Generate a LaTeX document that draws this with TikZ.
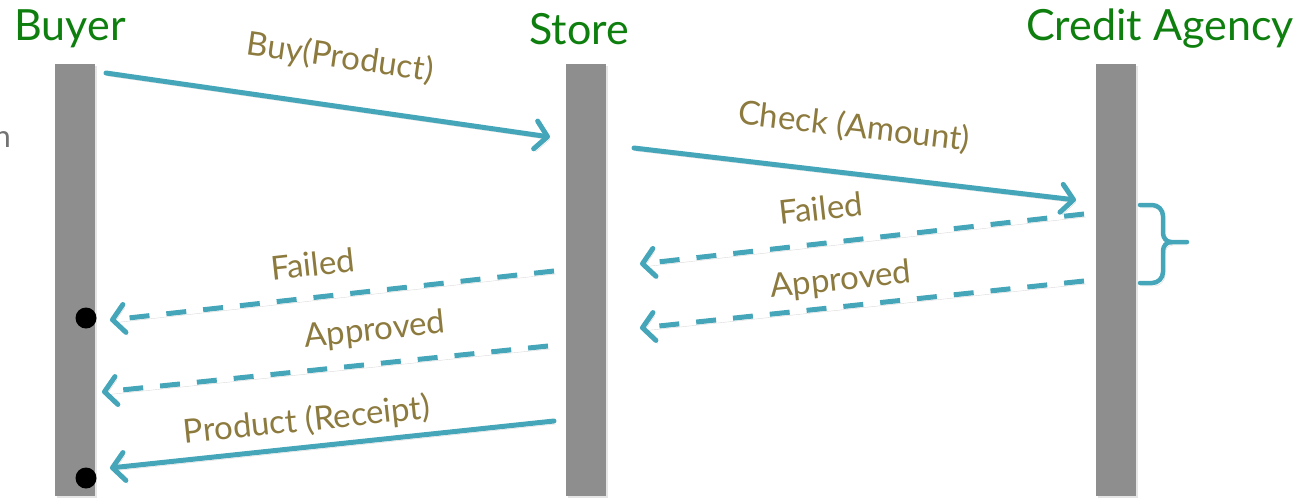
\documentclass[tikz,border=0pt]{standalone}
\usepackage{fontspec}
\setmainfont{Lato}
\usetikzlibrary{arrows.meta}
\definecolor{lifegray}{HTML}{8E8E8E}
\definecolor{msgblue}{HTML}{45A5B9}
\definecolor{msgtext}{HTML}{8C7A3E}
\definecolor{actorgreen}{HTML}{0E7F0E}
\begin{document}
\begin{tikzpicture}[x=1pt,y=-1pt,
  shade/.style={preaction={draw=black!50,opacity=.3,transform canvas={shift={(2pt,-3pt)}}}},
  lifeline/.style={draw=none,fill=lifegray,minimum width=40pt,minimum height=432pt,inner sep=0pt,
    preaction={fill=black!40,opacity=.25,transform canvas={shift={(2pt,-2pt)}}}},
  actor/.style={text=actorgreen,font=\fontsize{43}{46}\selectfont,inner sep=0pt},
  msg/.style={msgblue,line width=5pt,line cap=round,shade,
    -{Straight Barb[length=12pt,width=28pt,line width=5pt,round]}},
  reply/.style={msg,dash pattern=on 20pt off 17pt,line cap=butt},
  lbl/.style={text=msgtext,font=\fontsize{33}{35}\selectfont,inner sep=0pt},
  endpt/.style={circle,fill=black,minimum size=21pt,inner sep=0pt}]
\useasboundingbox (0,0) rectangle (1305,501);

% cut-off letter at the left edge
\node[text=black!55,font=\fontsize{31}{33}\selectfont,inner sep=0pt,anchor=east] (cut) at (11,140) {n};

% lifelines
\node[lifeline] (buyer) at (75,280) {};
\node[lifeline] (store) at (586,280) {};
\node[lifeline] (agency) at (1115.5,280) {};

% actors
\node[actor] (hbuyer) at (70,29) {Buyer};
\node[actor] (hstore) at (579,29) {Store};
\node[actor] (hagency) at (1160,29) {Credit Agency};

% message end points
\coordinate (b1) at (106,73);   \coordinate (s1) at (550,137);
\coordinate (s2) at (634,148);  \coordinate (c2) at (1076,200);
\coordinate (c3) at (1084,214); \coordinate (s3) at (640,264);
\coordinate (c4) at (1084,281); \coordinate (s4) at (640,328);
\coordinate (s5) at (554,271);  \coordinate (b5) at (110,320);
\coordinate (s6) at (548,346);  \coordinate (b6) at (102,392);
\coordinate (s7) at (554,421);  \coordinate (b7) at (110,468);

% messages
\draw[msg] (b1) -- (s1);
\draw[msg] (s2) -- (c2);
\draw[reply] (c3) -- (s3);
\draw[reply] (c4) -- (s4);
\draw[reply] (s5) -- (b5);
\draw[reply] (s6) -- (b6);
\draw[msg] (s7) -- (b7);

% message labels
\node[lbl,rotate=-8.2] (l1) at (340,58) {Buy(Product)};
\node[lbl,rotate=-6.7] (l2) at (854,127) {Check (Amount)};
\node[lbl,rotate=6.4] (l3) at (821,208) {Failed};
\node[lbl,rotate=6.0] (l4) at (841,281) {Approved};
\node[lbl,rotate=6.3] (l5) at (313,264) {Failed};
\node[lbl,rotate=5.9] (l6) at (375,331) {Approved};
\node[lbl,rotate=6.0] (l7) at (307,421) {Product (Receipt)};

% terminated calls
\node[endpt] (d1) at (86,318) {};
\node[endpt] (d2) at (86,478) {};

% brace grouping the two replies
\draw[msgblue,line width=4.5pt,line cap=round,shade]
  (1140,205) -- (1152,205) to[out=0,in=90] (1163,216) -- (1163,233)
  to[out=-90,in=180] (1171,242) -- (1187,242);
\draw[msgblue,line width=4.5pt,line cap=round,shade]
  (1140,283) -- (1152,283) to[out=0,in=-90] (1163,272) -- (1163,251)
  to[out=90,in=180] (1171,242);
\end{tikzpicture}
\end{document}
